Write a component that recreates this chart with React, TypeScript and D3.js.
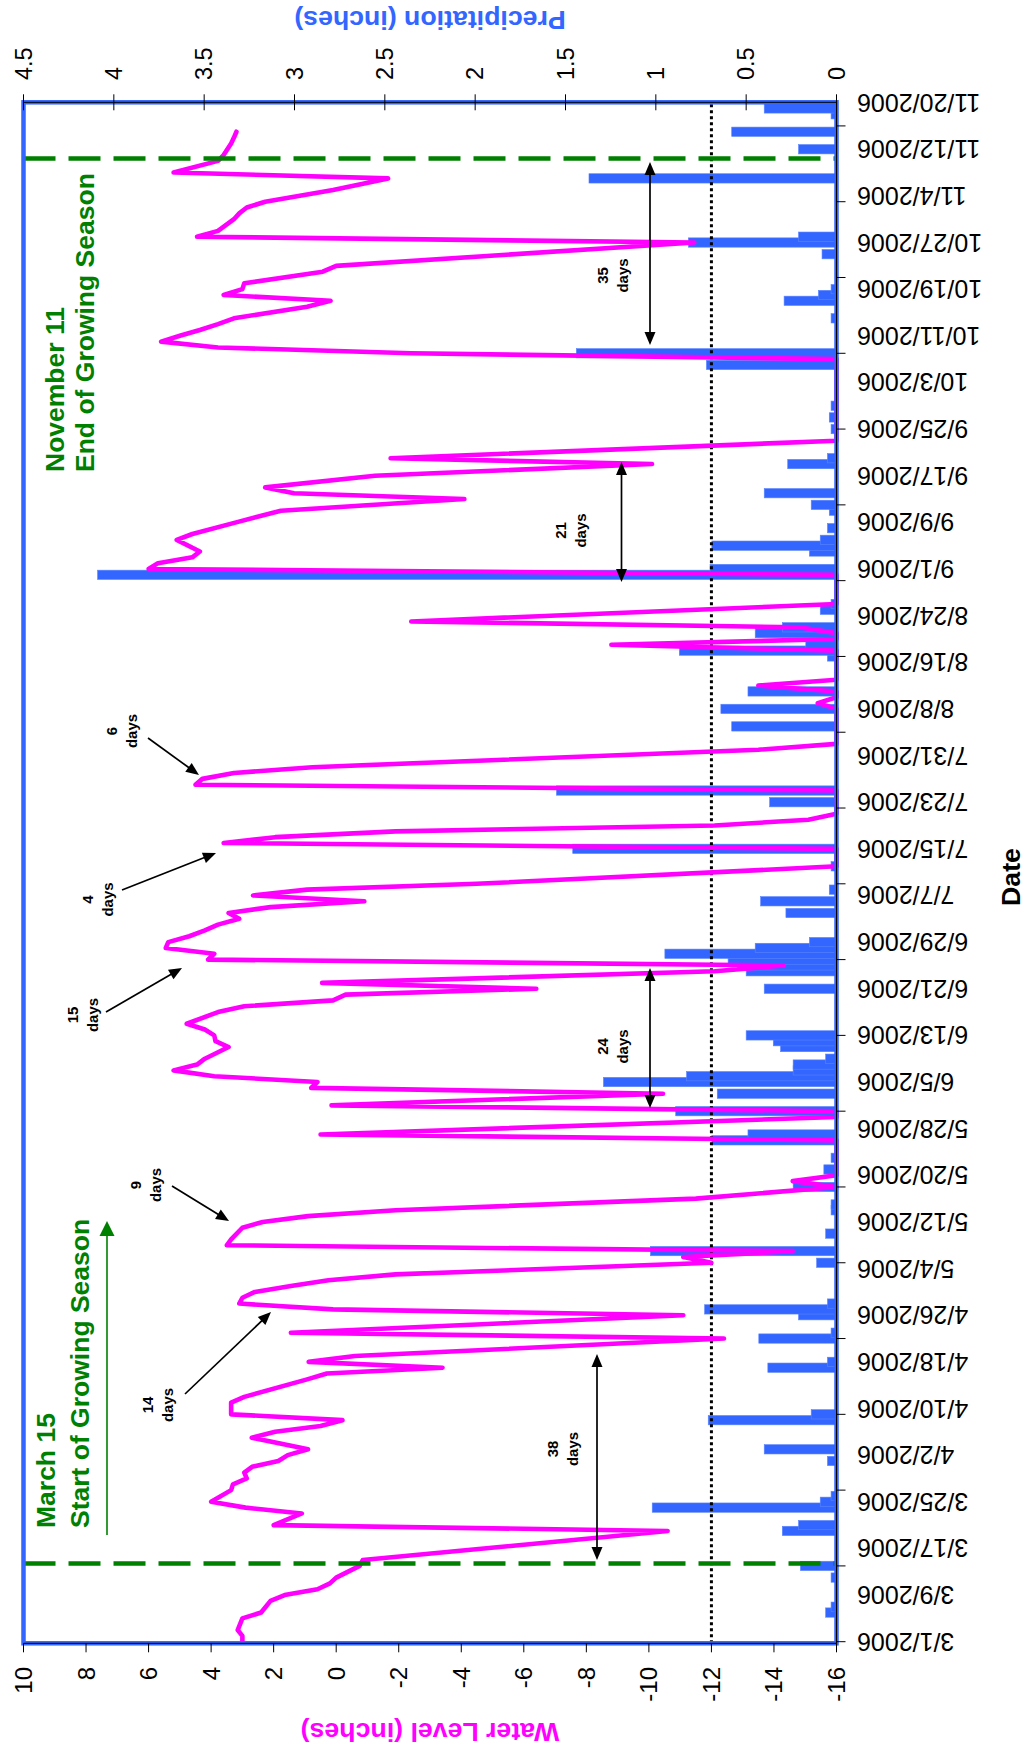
import React from "react";
import * as d3 from "d3";

// ---------- data ----------
const levelDates = [
  "3/1","3/2","3/3","3/5","3/6","3/8","3/9","3/10","3/11","3/12","3/14","3/15","3/20","3/21","3/23","3/24","3/25","3/27","3/28","3/29","3/30","3/31",
  "4/1","4/2","4/3","4/5","4/6","4/7","4/8","4/9","4/11","4/12","4/15","4/16","4/17","4/18","4/19","4/22","4/23","4/26","4/27","4/28","4/29","4/30",
  "5/1","5/2","5/3","5/5","5/6","5/7","5/8","5/9","5/11","5/12","5/13","5/14","5/16","5/18","5/19","5/20","5/26","5/27","5/30","5/31",
  "6/1","6/3","6/4","6/5","6/6","6/7","6/8","6/9","6/11","6/12","6/13","6/14","6/15","6/17","6/18","6/19","6/20","6/21","6/22","6/24","6/25","6/26","6/27","6/28","6/29","6/30",
  "7/1","7/2","7/3","7/4","7/5","7/6","7/7","7/8","7/9","7/12","7/15","7/16","7/17","7/18","7/19","7/20","7/21","7/25","7/26","7/27","7/28","7/29",
  "8/1","8/2","8/8","8/9","8/10","8/11","8/12","8/13","8/18","8/19","8/20","8/21","8/22","8/23","8/26","8/31",
  "9/1","9/2","9/3","9/4","9/6","9/7","9/9","9/11","9/13","9/14","9/15","9/17","9/19","9/20","9/23",
  "10/7","10/8","10/9","10/10","10/11","10/12","10/13","10/14","10/16","10/17","10/18","10/19","10/20","10/22","10/23","10/27","10/28","10/29","10/31",
  "11/1","11/2","11/3","11/5","11/7","11/8","11/10","11/11","11/13","11/14","11/15"
];
const levelValues = [
  3.0,3.0,3.15,3.0,2.4,2.1,1.65,0.6,0.2,0.0,-0.75,-0.85,-10.6,2.0,1.1,2.9,4.0,3.36,3.3,2.86,2.94,2.69,
  1.85,1.55,0.9,2.7,1.95,0.5,-0.2,3.36,3.36,2.94,0.93,0.3,-3.4,0.88,-0.6,-12.4,1.45,-11.1,0.1,3.1,3.0,2.6,
  1.45,0.25,-1.9,-12.0,-11.1,-14.6,3.5,3.36,3.0,2.35,0.9,-1.9,-11.5,-16,-14.6,-16,-16,0.5,-16,-16,
  0.15,-10.45,0.8,0.6,3.9,5.2,4.45,4.2,3.44,3.86,3.9,4.2,4.78,3.78,2.94,0.1,-0.3,-6.4,0.45,-12.1,-14.3,4.1,3.9,5.45,5.37,4.7,
  4.2,3.78,3.1,3.44,2.1,-0.9,2.66,0.93,-4.5,-16,-16,3.6,1.95,-1.9,-12.1,-15.1,-16,-16,4.5,4.28,3.27,0.76,
  -13.5,-16,-16,-15.4,-16,-16,-13.5,-16,-16,-8.8,-16,-16,-14.8,-2.4,-16,-16,
  6.0,5.7,4.6,4.36,5.1,4.6,3.2,1.77,-4.1,1.35,2.27,-1.24,-10.1,-1.74,-16,
  -16,-2.4,3.78,5.6,5.0,4.36,3.78,3.27,0.93,0.18,3.6,3.0,2.94,0.43,0.0,-11.45,4.45,3.78,3.27,
  3.1,2.86,2.27,0.1,-1.66,5.2,3.78,3.6,3.36,3.27,3.19
];
const rainDates = [
  "3/6","3/7","3/12","3/14","3/20","3/21","3/24","3/25","3/26","4/1","4/3","4/8","4/9","4/17","4/18","4/22","4/23","4/26","4/27","4/28",
  "5/5","5/7","5/10","5/14","5/15","5/18","5/21","5/23","5/26","5/27","5/31","6/3","6/5","6/6","6/7","6/8","6/9","6/11","6/12","6/13",
  "6/21","6/24","6/25","6/26","6/27","6/28","6/29","7/4","7/6","7/8","7/12","7/15","7/23","7/25","8/5","8/8","8/11","8/17","8/18","8/19",
  "8/21","8/22","8/25","8/26","8/31","9/1","9/4","9/5","9/6","9/8","9/11","9/12","9/14","9/19","9/20","9/25","9/27","9/29","10/6","10/8",
  "10/14","10/17","10/18","10/19","10/25","10/27","10/28","11/7","11/12","11/15","11/18","11/19"
];
const rainValues = [
  0.06,0.03,0.03,0.2,0.3,0.21,1.02,0.09,0.03,0.05,0.4,0.71,0.14,0.38,0.05,0.43,0.03,0.21,0.73,0.05,
  0.11,1.03,0.06,0.03,0.03,0.24,0.07,0.03,0.69,0.49,0.89,0.66,1.29,0.83,0.24,0.24,0.06,0.31,0.35,0.5,
  0.4,0.5,0.55,0.6,0.95,0.45,0.15,0.28,0.42,0.04,0.03,1.46,0.37,1.55,0.58,0.64,0.49,0.05,0.87,0.17,
  0.45,0.3,0.09,0.03,4.09,0.7,0.15,0.69,0.09,0.05,0.04,0.14,0.4,0.27,0.05,0.03,0.04,0.03,0.72,1.44,
  0.03,0.29,0.1,0.03,0.08,0.82,0.21,1.37,0.21,0.58,0.03,0.4
];
const dateLabels = [
  "3/1/2006","3/9/2006","3/17/2006","3/25/2006","4/2/2006","4/10/2006","4/18/2006","4/26/2006","5/4/2006",
  "5/12/2006","5/20/2006","5/28/2006","6/5/2006","6/13/2006","6/21/2006","6/29/2006","7/7/2006","7/15/2006",
  "7/23/2006","7/31/2006","8/8/2006","8/16/2006","8/24/2006","9/1/2006","9/9/2006","9/17/2006","9/25/2006",
  "10/3/2006","10/11/2006","10/19/2006","10/27/2006","11/4/2006","11/12/2006","11/20/2006"
];
const levelTicks = [10, 8, 6, 4, 2, 0, -2, -4, -6, -8, -10, -12, -14, -16];
const rainTicks = [0, 0.5, 1, 1.5, 2, 2.5, 3, 3.5, 4, 4.5];
const seasonStart = "3/15";
const seasonEnd = "11/11";
const dryLevel = -12;

// annotation layout (original landscape frame)
const dayLabels = [
  { n: "38", cx: 302, b: 558 },
  { n: "14", cx: 346, b: 153 },
  { n: "9", cx: 566, b: 141 },
  { n: "24", cx: 704.5, b: 608 },
  { n: "15", cx: 736, b: 78 },
  { n: "4", cx: 851.5, b: 93 },
  { n: "6", cx: 1020, b: 117 },
  { n: "21", cx: 1220.5, b: 566 },
  { n: "35", cx: 1475.5, b: 608 },
];
const dayArrows = [
  { x1: 191, y1: 597, x2: 397, y2: 597, both: true },
  { x1: 357, y1: 185, x2: 439, y2: 271, both: false },
  { x1: 565, y1: 172, x2: 530, y2: 229, both: false },
  { x1: 643, y1: 650, x2: 783, y2: 650, both: true },
  { x1: 739, y1: 106, x2: 783, y2: 182, both: false },
  { x1: 861, y1: 122, x2: 898, y2: 216, both: false },
  { x1: 1013, y1: 148, x2: 976, y2: 199, both: false },
  { x1: 1169, y1: 621.5, x2: 1289, y2: 621.5, both: true },
  { x1: 1406, y1: 650, x2: 1589, y2: 650, both: true },
];

const FONT = "'Liberation Sans', Arial, Helvetica, sans-serif";
const BLUE = "#3366FF";
const MAGENTA = "#FF00FF";
const GREEN = "#008000";

const parse = (s: string) => {
  const p = s.split("/").map(Number);
  return new Date(Date.UTC(2006, p[0] - 1, p[1]));
};

function head(tx: number, ty: number, fx: number, fy: number, L: number, w: number) {
  const dx = tx - fx, dy = ty - fy;
  const len = Math.hypot(dx, dy);
  const ux = dx / len, uy = dy / len;
  const bx = tx - ux * L, by = ty - uy * L;
  const px = -uy * w / 2, py = ux * w / 2;
  return `${tx},${ty} ${bx + px},${by + py} ${bx - px},${by - py}`;
}

export default function App() {
  const W = 1751;
  const plot = { left: 107.7, right: 1648.7, top: 23.5, bottom: 836.5 };
  const x = d3.scaleUtc().domain([parse("3/1"), parse("11/20")]).range([109.3, 1648.4]);
  const yL = d3.scaleLinear().domain([-16, 10]).range([plot.bottom, plot.top]);
  const yR = d3.scaleLinear().domain([0, 4.5]).range([plot.bottom, plot.top]);

  const level = levelDates.map((d, i) => ({ date: parse(d), v: levelValues[i] }));
  const rain = rainDates.map((d, i) => ({ date: parse(d), v: rainValues[i] }));
  const dayW = x(parse("3/2")) - x(parse("3/1"));
  const barW = dayW * 1.6;
  const line = d3.line<{ date: Date; v: number }>().x((d) => x(d.date)).y((d) => yL(d.v));
  const majorTicks = d3.range(0, 265, 13).map((k) => d3.utcDay.offset(parse("3/1"), k));
  const xStart = x(parse(seasonStart)) - 3.5;
  const xEnd = x(parse(seasonEnd)) - 3.5;

  return (
    <svg width={1032} height={1751} style={{ position: "absolute", left: 0, top: 0, background: "#fff" }}
      fontFamily={FONT}>
      <g transform={`translate(0,${W}) rotate(-90)`}>
        <rect x={0} y={0} width={1751} height={1032} fill="#fff" />
        {/* precipitation bars */}
        {rain.map((d, i) => (
          <rect key={"r" + i} x={x(d.date) - barW / 2} y={yR(d.v)} width={barW}
            height={yR(0) - yR(d.v)} fill={BLUE} stroke="#5b85ff" strokeWidth={0.6} />
        ))}
        {/* dry threshold */}
        <line x1={plot.left} x2={plot.right} y1={yL(dryLevel)} y2={yL(dryLevel)}
          stroke="#000" strokeWidth={3} strokeDasharray="3,3" />
        {/* water level */}
        <path d={line(level) || ""} fill="none" stroke={MAGENTA} strokeWidth={4.6}
          strokeLinejoin="round" strokeLinecap="round" />
        {/* season lines */}
        {[xStart, xEnd].map((xx, i) => (
          <line key={"g" + i} x1={xx} x2={xx} y1={plot.top} y2={plot.bottom} stroke={GREEN}
            strokeWidth={4.5} strokeDasharray="32,13" />
        ))}
        {/* frame */}
        <rect x={plot.left} y={plot.top} width={plot.right - plot.left} height={plot.bottom - plot.top}
          fill="none" stroke={BLUE} strokeWidth={4.5} />
        <line x1={plot.left} x2={plot.right} y1={plot.bottom} y2={plot.bottom} stroke="#000" strokeWidth={1} />
        <line x1={plot.left} x2={plot.left} y1={plot.top} y2={plot.bottom} stroke="#000" strokeWidth={1} />
        <line x1={plot.right} x2={plot.right} y1={plot.top} y2={plot.bottom} stroke="#000" strokeWidth={1} />

        {/* water level axis */}
        {levelTicks.map((t) => (
          <g key={"lt" + t}>
            <line x1={plot.left - 9} x2={plot.left} y1={yL(t)} y2={yL(t)} stroke="#000" strokeWidth={1} />
            <text x={84} y={yL(t)} textAnchor="end" dominantBaseline="central" fontSize={24} fill="#000">{String(t)}</text>
          </g>
        ))}
        <text transform={`translate(28,${(plot.top + plot.bottom) / 2}) rotate(-90)`} textAnchor="middle"
          fontWeight="bold" fontSize={26.7} fill={MAGENTA}>Water Level (inches)</text>

        {/* precipitation axis */}
        {rainTicks.map((t) => (
          <g key={"rt" + t}>
            <line x1={plot.right - 8} x2={plot.right + 8} y1={yR(t)} y2={yR(t)} stroke="#000" strokeWidth={1} />
            <text x={1671} y={yR(t)} textAnchor="start" dominantBaseline="central" fontSize={23.5} fill="#000">{String(t)}</text>
          </g>
        ))}
        <text transform={`translate(1740,${(plot.top + plot.bottom) / 2}) rotate(-90)`} textAnchor="middle"
          fontWeight="bold" fontSize={26.7} fill={BLUE}>Precipitation (inches)</text>

        {/* date axis */}
        {majorTicks.map((t, i) => (
          <line key={"dt" + i} x1={x(t)} x2={x(t)} y1={plot.bottom} y2={plot.bottom + 9} stroke="#000" strokeWidth={1} />
        ))}
        {dateLabels.map((s) => (
          <text key={s} transform={`translate(${x(parse(s))},857) rotate(-90)`} textAnchor="end"
            dominantBaseline="central" fontSize={25} fill="#000">{s}</text>
        ))}
        <text x={874} y={1020} textAnchor="middle" fontWeight="bold" fontSize={26.7} fill="#000">Date</text>

        {/* growing season annotations */}
        <text x={223} y={55} fontWeight="bold" fontSize={26.5} fill={GREEN}>March 15</text>
        <text x={223} y={89} fontWeight="bold" fontSize={26.5} fill={GREEN}>Start of Growing Season</text>
        <line x1={216} x2={516} y1={107} y2={107} stroke={GREEN} strokeWidth={1.6} />
        <polygon points={head(530, 107, 216, 107, 15, 15)} fill={GREEN} />
        <text x={1279} y={64} fontWeight="bold" fontSize={26.5} fill={GREEN}>November 11</text>
        <text x={1279} y={94} fontWeight="bold" fontSize={26.5} fill={GREEN}>End of Growing Season</text>

        {/* day-count arrows */}
        {dayArrows.map((a, i) => {
          const L = 13;
          const len = Math.hypot(a.x2 - a.x1, a.y2 - a.y1);
          const ux = (a.x2 - a.x1) / len, uy = (a.y2 - a.y1) / len;
          const sx = a.both ? a.x1 + ux * (L - 2) : a.x1;
          const sy = a.both ? a.y1 + uy * (L - 2) : a.y1;
          return (
            <g key={"a" + i}>
              <line x1={sx} y1={sy} x2={a.x2 - ux * (L - 2)} y2={a.y2 - uy * (L - 2)} stroke="#000" strokeWidth={1.7} />
              <polygon points={head(a.x2, a.y2, a.x1, a.y1, L, 11)} fill="#000" />
              {a.both && <polygon points={head(a.x1, a.y1, a.x2, a.y2, L, 11)} fill="#000" />}
            </g>
          );
        })}
        {dayLabels.map((l, i) => (
          <g key={"dl" + i} fontWeight="bold" fontSize={15} fill="#000" textAnchor="middle">
            <text x={l.cx} y={l.b}>{l.n}</text>
            <text x={l.cx} y={l.b + 20}>days</text>
          </g>
        ))}
      </g>
    </svg>
  );
}
